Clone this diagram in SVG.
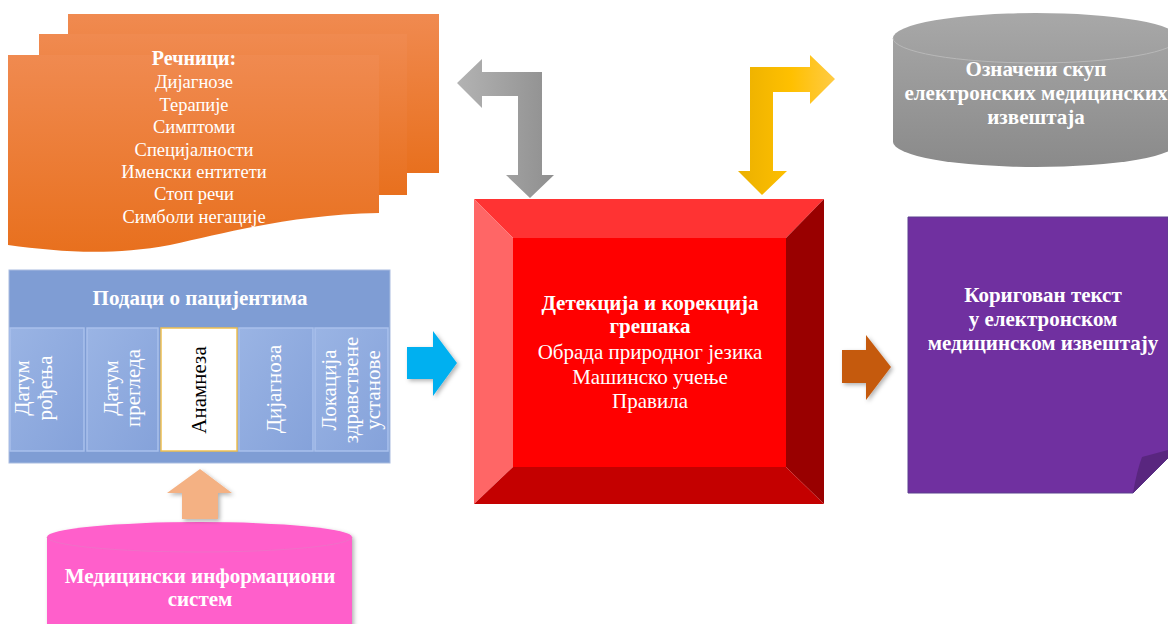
<svg xmlns="http://www.w3.org/2000/svg" width="1168" height="624" viewBox="0 0 1168 624">
<defs>
  <linearGradient id="gOrange" x1="0" y1="0" x2="0" y2="1">
    <stop offset="0" stop-color="#F08A50"/>
    <stop offset="1" stop-color="#E8701E"/>
  </linearGradient>
  <linearGradient id="gGray" x1="0" y1="0" x2="1" y2="0">
    <stop offset="0" stop-color="#B3B3B3"/>
    <stop offset="1" stop-color="#8F8F8F"/>
  </linearGradient>
  <linearGradient id="gYellow" x1="0" y1="0" x2="1" y2="0">
    <stop offset="0" stop-color="#EBB000"/>
    <stop offset="0.55" stop-color="#FFC000"/>
    <stop offset="1" stop-color="#FFCB45"/>
  </linearGradient>
  <linearGradient id="gCyl" x1="0" y1="0" x2="0" y2="1">
    <stop offset="0" stop-color="#A8A8A8"/>
    <stop offset="1" stop-color="#8A8A8A"/>
  </linearGradient>
  <linearGradient id="gCell" x1="0" y1="0" x2="1" y2="1">
    <stop offset="0" stop-color="#9AB4E4"/>
    <stop offset="1" stop-color="#85A2DA"/>
  </linearGradient>
  <filter id="sh" x="-20%" y="-20%" width="140%" height="140%">
    <feDropShadow dx="2" dy="2" stdDeviation="2" flood-color="#000" flood-opacity="0.3"/>
  </filter>
</defs>
<style>
  text { font-family: "Liberation Serif", "Times New Roman", serif; fill: #FFFFFF; text-anchor: middle; }
  .b { font-weight: bold; }
  .cell { fill: url(#gCell); stroke: #A9C0EC; stroke-width: 1.5; }
  .rt { font-size: 21px; }
  .t21 { font-size: 21px; }
  .t18 { font-size: 18.5px; }
</style>

<g id="dictionaries">
  <path d="M68,14 H439 V173 H68 Z" fill="url(#gOrange)"/>
  <path d="M39,34 H407 V195 H39 Z" fill="url(#gOrange)"/>
  <path d="M8,55 H379 V213 C290,215 230,232 170,245 C110,256 60,252 8,245 Z" fill="url(#gOrange)"/>
  <text x="194" y="65" class="b" font-size="20">Речници:</text>
  <text x="194" y="88" class="t18">Дијагнозе</text>
  <text x="194" y="111" class="t18">Терапије</text>
  <text x="194" y="133" class="t18">Симптоми</text>
  <text x="194" y="156" class="t18">Специјалности</text>
  <text x="194" y="178" class="t18">Именски ентитети</text>
  <text x="194" y="200" class="t18">Стоп речи</text>
  <text x="194" y="223" class="t18">Симболи негације</text>
</g>

<g id="patient-data">
  <rect x="9" y="270" width="381" height="193" fill="#7F9DD4" stroke="#A9BCE0" stroke-width="1"/>
  <text x="200" y="305" class="b t21">Подаци о пацијентима</text>
  <rect class="cell" x="10" y="328" width="74" height="123"/>
  <rect class="cell" x="87" y="328" width="71" height="123"/>
  <rect x="161" y="328" width="76" height="123" fill="#FFFFFF" stroke="#F0C050" stroke-width="1.5"/>
  <rect class="cell" x="239" y="328" width="74" height="123"/>
  <rect class="cell" x="315" y="328" width="73" height="123"/>
  <text class="rt" transform="translate(0,388) rotate(-90)"><tspan x="0" y="29">Датум</tspan><tspan x="0" y="52">рођења</tspan></text>
  <text class="rt" transform="translate(0,388) rotate(-90)"><tspan x="0" y="118">Датум</tspan><tspan x="0" y="140">прегледа</tspan></text>
  <text class="rt" transform="translate(0,390) rotate(-90)" style="fill:#000000"><tspan x="0" y="206">Анамнеза</tspan></text>
  <text class="rt" transform="translate(0,389) rotate(-90)"><tspan x="0" y="281">Дијагноза</tspan></text>
  <text class="rt" transform="translate(0,390) rotate(-90)"><tspan x="0" y="336">Локација</tspan><tspan x="0" y="358">здравствене</tspan><tspan x="0" y="380">установе</tspan></text>
</g>

<g id="mis">
  <path d="M47,537 A152.5,15 0 0 1 352,537 V640 H47 Z" fill="#FF5FCB" filter="url(#sh)"/>
  <path d="M47,537 A152.5,15 0 0 0 352,537" fill="none" stroke="#F070C8" stroke-width="1"/>
  <text x="200" y="583" class="b t21">Медицински информациони</text>
  <text x="200" y="606" class="b t21">систем</text>
</g>

<g id="processing">
  <polygon points="474,199 824,199 786,238 513,238" fill="#FF3333"/>
  <polygon points="474,199 513,238 513,467 474,504" fill="#FF6666"/>
  <polygon points="824,199 824,504 786,467 786,238" fill="#990000"/>
  <polygon points="474,504 513,467 786,467 824,504" fill="#C40000"/>
  <rect x="513" y="238" width="273" height="229" fill="#FF0000"/>
  <text x="650" y="310" class="b t21">Детекција и корекција</text>
  <text x="650" y="333" class="b t21">грешака</text>
  <text x="650" y="359" class="t21">Обрада природног језика</text>
  <text x="650" y="384" class="t21">Машинско учење</text>
  <text x="650" y="408" class="t21">Правила</text>
</g>

<g id="annotated-set">
  <path d="M893,38 A143,25 0 0 1 1179,38 V142 A143,25 0 0 1 893,142 Z" fill="url(#gCyl)"/>
  <path d="M893,38 A143,25 0 0 0 1179,38" fill="none" stroke="#B8B8B8" stroke-width="1"/>
  <text x="1036" y="76" class="b t21">Означени скуп</text>
  <text x="1036" y="100" class="b t21">електронских медицинских</text>
  <text x="1036" y="124" class="b t21">извештаја</text>
</g>

<g id="corrected-text">
  <path d="M908,217 H1168 V458 L1133,493 H908 Z" fill="#7030A0" stroke="#5B3E8E" stroke-width="1"/>
  <path d="M1133,493 Q1137,470 1142,457 L1168,450 V458 Z" fill="#59267F"/>
  <text x="1043" y="302" class="b t21">Коригован текст</text>
  <text x="1043" y="326" class="b t21">у електронском</text>
  <text x="1043" y="350" class="b t21">медицинском извештају</text>
</g>

<g id="connectors">
  <polygon points="457,83 482,59 482,72 542,72 542,175 554,175 530,198 506,175 518,175 518,96 482,96 482,108" fill="url(#gGray)"/>
  <polygon points="750,67 810,67 810,55 835,79 810,104 810,92 773,92 773,171 787,171 762,195 738,171 750,171" fill="url(#gYellow)"/>
  <polygon points="407,347 433,347 433,331 457,363 433,396 433,379 407,379" fill="#00B0F0" filter="url(#sh)"/>
  <polygon points="842,350 866,350 866,335 891,367 866,400 866,383 842,383" fill="#C55A11" filter="url(#sh)"/>
  <polygon points="200,469 232,493 218,493 218,519 182,519 182,493 167,493" fill="#F4B183" filter="url(#sh)"/>
</g>
</svg>
